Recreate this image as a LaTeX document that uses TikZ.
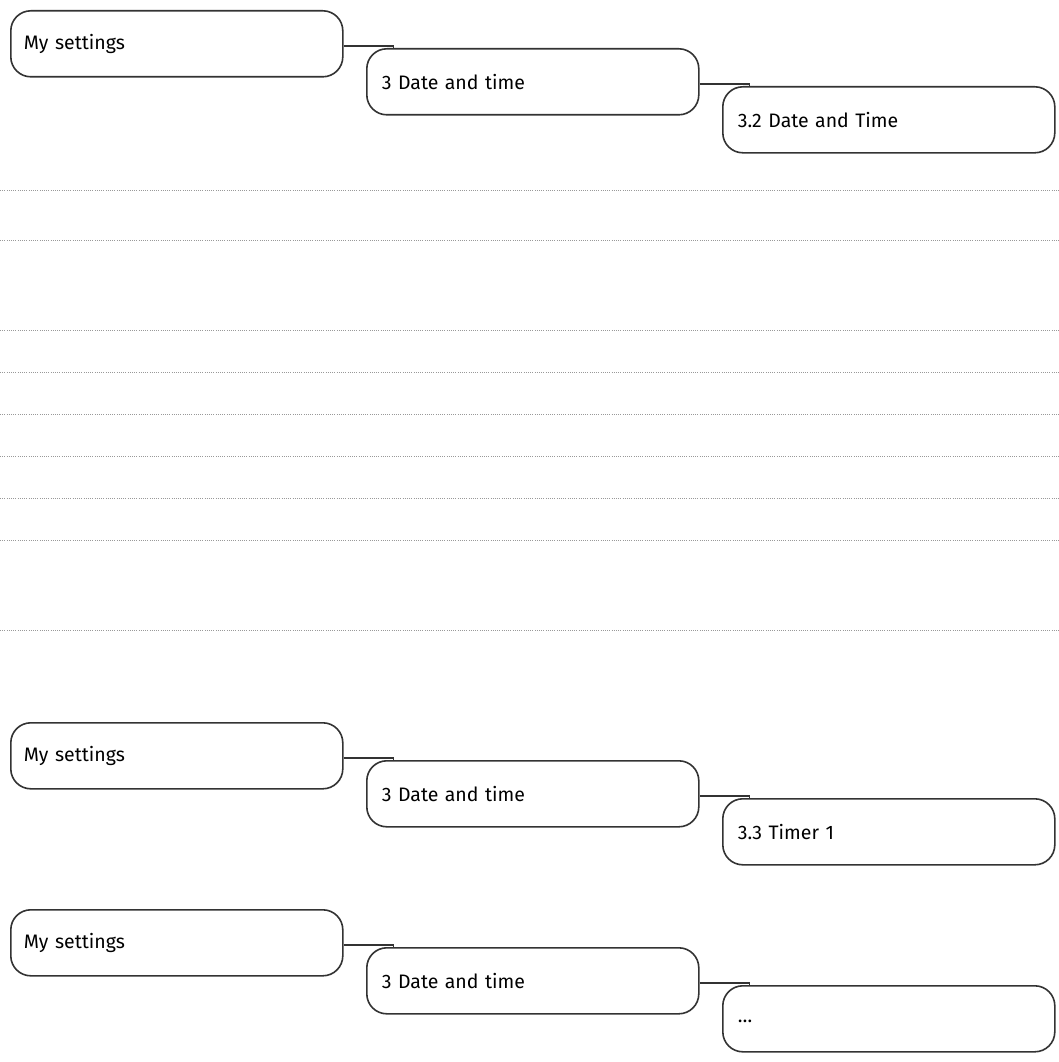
\documentclass[tikz,border=0pt]{standalone}
\usepackage{fontspec}
\setmainfont{Fira Sans}
\begin{document}
\begin{tikzpicture}[x=1pt,y=-1pt,
  box/.style={draw=black!80,line width=1.6pt,rounded corners=20pt,minimum width=332pt,minimum height=66pt,anchor=north west,text width=302pt,align=left,inner sep=0pt,font=\fontsize{19.5}{22}\selectfont},
  con/.style={draw=black!80,line width=1.6pt},
  dots/.style={draw=black!40,line width=0.8pt,dash pattern=on 1pt off 1.2pt}]
\useasboundingbox (0,0) rectangle (1059,1062);
\foreach \y in {190,240,330,372,414,456,498,540,630} \draw[dots] (0,\y) -- (1059,\y);
\foreach \g/\yy/\last in {a/10/3.2 Date and Time, b/722/3.3 Timer 1, c/909/\raisebox{-8pt}{\dots}}{
  \node[box] (\g1) at (10,\yy) {\hspace*{-2pt}My settings};
  \node[box] (\g2) at (366,\yy+38) {3 Date and time};
  \node[box] (\g3) at (722,\yy+76) {\last};
  \coordinate (\g k1) at ([xshift=50pt]\g1.east |- \g2.north);
  \coordinate (\g k2) at ([xshift=50pt]\g2.east |- \g3.north);
  \draw[con] ([yshift=-2pt]\g1.east) -| (\g k1);
  \draw[con] ([yshift=-2pt]\g2.east) -| (\g k2);
}
\end{tikzpicture}
\end{document}
